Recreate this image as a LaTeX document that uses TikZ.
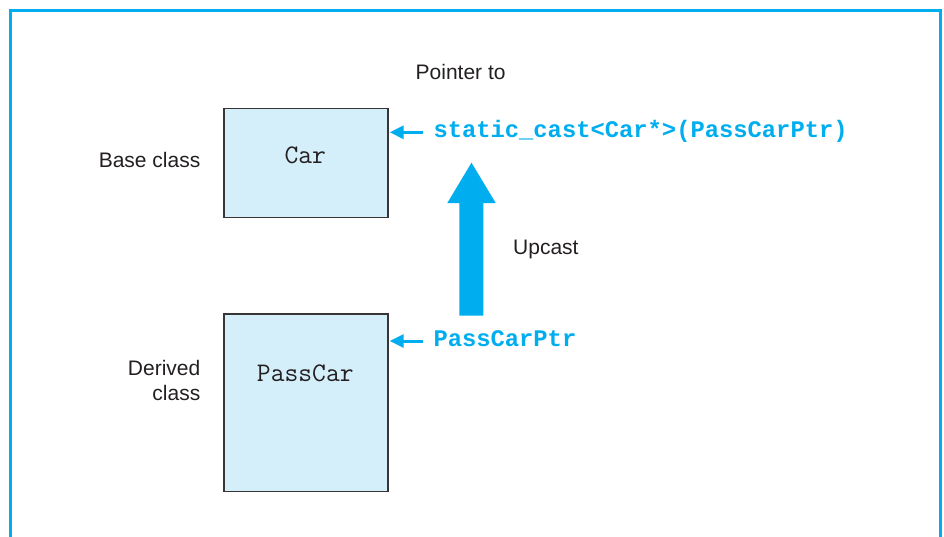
\documentclass[tikz,border=0pt]{standalone}
\usepackage{fontspec}
\setmainfont{Liberation Sans}
\newfontfamily\ptrmono{Liberation Mono}
\usetikzlibrary{arrows.meta}
\definecolor{cyanblue}{HTML}{00AEEF}
\definecolor{boxfill}{HTML}{D4EEFA}
\definecolor{inkgray}{HTML}{231F20}
\begin{document}
\begin{tikzpicture}[x=1pt,y=-1pt,
  classbox/.style={draw=inkgray!90, line width=1.4pt, fill=boxfill, inner sep=0pt},
  lbl/.style={inner sep=0pt, text=inkgray, font=\fontsize{21}{24}\selectfont},
  code/.style={inner sep=0pt, text=inkgray, font=\fontsize{26.8}{28}\selectfont\ttfamily},
  ptrcode/.style={inner sep=0pt, text=cyanblue, font=\fontsize{23.8}{26}\selectfont\ptrmono\bfseries},
  ptrarrow/.style={draw=cyanblue, line width=3pt, -{Triangle[length=14pt,width=13pt]}}
]
\useasboundingbox (0,0) rectangle (944,536);
% frame
\draw[cyanblue, line width=3pt] (10,545) -- (10,10) -- (940.5,10) -- (940.5,545);
% class boxes
\node[classbox, minimum width=164pt, minimum height=109pt, anchor=north west] (car) at (223.3,107.7) {};
\node[classbox, minimum width=164pt, minimum height=177.4pt, anchor=north west] (passcar) at (223.3,313.3) {};
\node[code, anchor=base] (cartxt) at (305.3,163.3) {Car};
\node[code, anchor=base] (passcartxt) at (305.3,381) {PassCar};
% side labels
\node[lbl, anchor=base east] (base) at (200.5,167) {Base class};
\node[lbl, anchor=base east] (derived1) at (200.5,375) {Derived};
\node[lbl, anchor=base east] (derived2) at (200.5,400.5) {class};
\node[lbl, anchor=base west] (pointer) at (415.5,79) {Pointer to};
\node[lbl, anchor=base west] (upcast) at (513,254.5) {Upcast};
% pointer labels
\node[ptrcode, anchor=base west] (cast) at (433.3,137.3) {static\_cast<Car*>(PassCarPtr)};
\node[ptrcode, anchor=base west] (pcp) at (433.3,346.3) {PassCarPtr};
\coordinate (a1) at (423,132.3);
\coordinate (a2) at (423,341);
\draw[ptrarrow, shorten >=1pt] (a1) -- (car.east |- a1);
\draw[ptrarrow, shorten >=1pt] (a2) -- (passcar.east |- a2);
% upcast arrow
\fill[cyanblue] (459.3,315.7) -- (459.3,203) -- (447.3,203) -- (471.5,162.7) -- (495.7,203) -- (483.3,203) -- (483.3,315.7) -- cycle;
\end{tikzpicture}
\end{document}
